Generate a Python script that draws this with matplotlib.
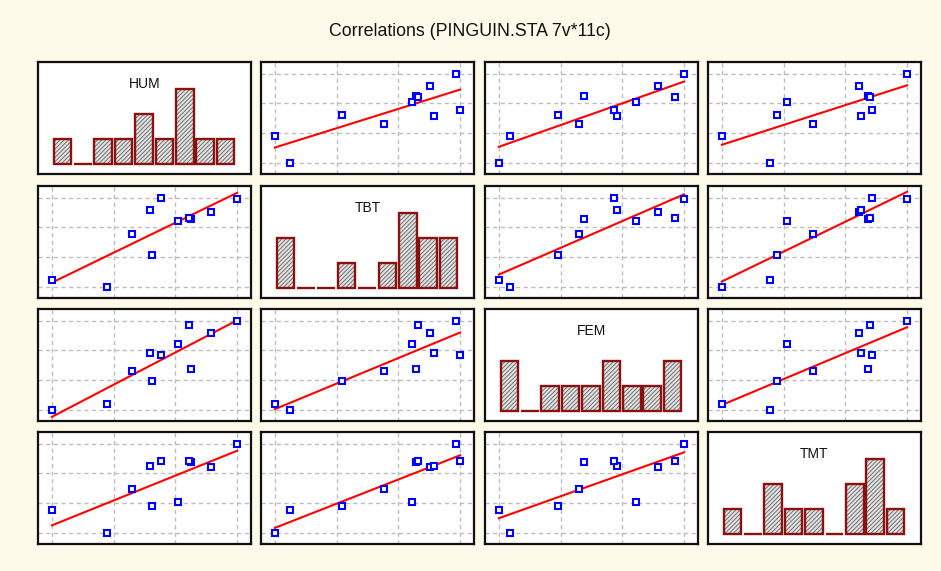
import numpy as np
import matplotlib.pyplot as plt

# 11 cases, 4 variables
names = ['HUM', 'TBT', 'FEM', 'TMT']
hum = [63.0, 60.0, 65.4, 64.3, 66.8, 67.5, 68.6, 65.3, 70.0, 65.9, 67.4]
tbt = [112.0, 112.8, 115.6, 117.9, 119.4, 119.6, 120.4, 120.6, 121.8, 122.0, 119.7]
fem = [88.6, 88.0, 91.2, 92.3, 95.4, 92.6, 96.6, 94.4, 98.0, 94.2, 97.5]
tmt = [75.0, 77.6, 78.0, 79.9, 78.5, 82.9, 82.4, 82.5, 85.0, 83.1, 83.0]
data = [np.array(v) for v in (hum, tbt, fem, tmt)]

bg = '#fdfaea'
W, H = 941, 571
fig = plt.figure(figsize=(W / 100, H / 100), dpi=100, facecolor=bg)
plt.rcParams['font.family'] = ['Liberation Sans', 'DejaVu Sans']
plt.rcParams['hatch.linewidth'] = 0.7

fig.text(470 / W, 1 - 32 / H, 'Correlations (PINGUIN.STA 7v*11c)',
         ha='center', va='center', fontsize=12.8, color='#111111')

lefts = [38, 261, 485, 708]
tops = [62, 186, 309, 432]
pw, ph = 213, 112

for i in range(4):
    for j in range(4):
        ax = fig.add_axes([lefts[j] / W, 1 - (tops[i] + ph) / H, pw / W, ph / H])
        ax.set_facecolor('white')
        for s in ax.spines.values():
            s.set_linewidth(1.6)
            s.set_color('#111111')
        ax.tick_params(length=0, labelbottom=False, labelleft=False)
        if i == j:
            counts, _ = np.histogram(data[i], bins=9)
            pos = np.arange(9)
            ax.bar(pos, counts, width=0.86, color='#e4e4e4', edgecolor='#6e6e6e',
                   hatch='////////', linewidth=0)
            ax.bar(pos, counts, width=0.86, fill=False, edgecolor='#8b1010',
                   linewidth=1.7)
            ax.set_xlim(-1.2, 9.25)
            ax.set_ylim(-0.41, 4.1)
            ax.set_xticks([])
            ax.set_yticks([])
            ax.text(0.5, 0.8, names[i], transform=ax.transAxes, ha='center',
                    va='center', fontsize=10, color='#111111')
        else:
            x, y = data[j], data[i]
            xr = x.max() - x.min()
            yr = y.max() - y.min()
            ax.set_xticks(x.min() + xr * np.arange(4) / 3)
            ax.set_yticks(y.min() + yr * np.arange(4) / 3)
            ax.grid(True, color='#bdbdbd', linestyle=(0, (3, 2.5)), linewidth=1.0)
            ax.set_axisbelow(True)
            b, a = np.polyfit(x, y, 1)
            xl = np.array([x.min(), x.max()])
            ax.plot(xl, a + b * xl, color='#ff0000', linewidth=1.5, zorder=2)
            ax.plot(x, y, 's', markersize=4.5, markerfacecolor='white',
                    markeredgecolor='#0000ff', markeredgewidth=1.5, zorder=3)
            ax.set_xlim(x.min() - 0.075 * xr, x.max() + 0.075 * xr)
            ax.set_ylim(y.min() - 0.125 * yr, y.max() + 0.13 * yr)

fig.savefig('out.png', dpi=100, facecolor=bg)
